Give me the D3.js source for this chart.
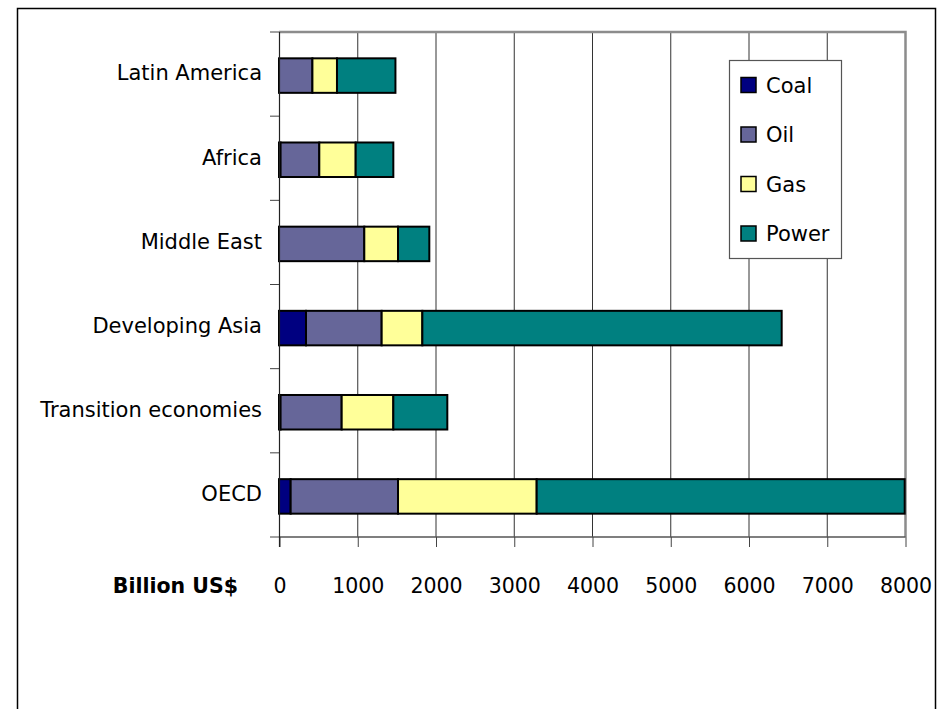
<!DOCTYPE html>
<html lang="en">
<head>
  <meta charset="UTF-8">
  <title>Investment by region</title>
  <script src="https://d3js.org/d3.v7.min.js"></script>
  <style>
    body { margin: 0; background: #fff; font-family: "DejaVu Sans", sans-serif; }
    svg { display: block; }
    .cat-label { font-size: 21px; text-anchor: end; }
    .tick-label { font-size: 20.5px; text-anchor: middle; }
    .unit-label { font-size: 20.5px; font-weight: bold; text-anchor: end; }
    .legend-label { font-size: 21px; }
  </style>
</head>
<body>
<svg width="949" height="709"></svg>
<script>
// regions, bottom to top as drawn
const regions = ["OECD", "Transition economies", "Developing Asia", "Middle East", "Africa", "Latin America"];
const fuels = ["Coal", "Oil", "Gas", "Power"];
const fuelColors = ["#000080", "#666699", "#ffff99", "#008080"];

// billion US$, same order as regions
const coal  = [149,  20,  345,    0,  20,   0];
const oil   = [1372, 781, 967,  1090, 495, 427];
const gas   = [1772, 660, 520,  431,  465, 314];
const power = [4703, 690, 4592, 400,  481, 747];

const xTicks = [0, 1000, 2000, 3000, 4000, 5000, 6000, 7000, 8000];

const rows = regions.map((r, i) => ({
  region: r, Coal: coal[i], Oil: oil[i], Gas: gas[i], Power: power[i]
}));

const svg = d3.select("svg");

// outer chart frame
svg.append("rect")
  .attr("x", 17.5).attr("y", 8.5)
  .attr("width", 918).attr("height", 720)
  .attr("fill", "#fff")
  .attr("stroke", "#000")
  .attr("stroke-width", 1.5);

const plot = { left: 279, right: 905, top: 32, bottom: 537 };

const x = d3.scaleLinear()
  .domain([0, 8000])
  .range([plot.left, plot.right]);

const y = d3.scaleBand()
  .domain(regions.slice().reverse())
  .range([plot.top, plot.bottom])
  .paddingInner(0.59)
  .paddingOuter(0.295);

const g = svg.append("g");

// vertical gridlines
g.append("g")
  .selectAll("line")
  .data(xTicks.slice(1, -1))
  .join("line")
  .attr("x1", d => x(d) + 0.5).attr("x2", d => x(d) + 0.5)
  .attr("y1", plot.top).attr("y2", plot.bottom)
  .attr("stroke", "#333")
  .attr("stroke-width", 1);

// plot area border on top and right (grey)
g.append("path")
  .attr("d", `M${plot.left},${plot.top} H${x(8000) + 0.5} V${plot.bottom}`)
  .attr("fill", "none")
  .attr("stroke", "#8c8c8c")
  .attr("stroke-width", 2.5);

// stacked bars
const stack = d3.stack().keys(fuels);
const series = stack(rows);

g.append("g")
  .attr("transform", "translate(0,1.5)")
  .selectAll("g")
  .data(series)
  .join("g")
  .attr("fill", (d, i) => fuelColors[i])
  .selectAll("rect")
  .data(d => d.filter(p => p[1] - p[0] > 0))
  .join("rect")
  .attr("x", d => x(d[0]))
  .attr("y", d => y(d.data.region))
  .attr("width", d => x(d[1]) - x(d[0]))
  .attr("height", y.bandwidth())
  .attr("stroke", "#000")
  .attr("stroke-width", 2);

// value axis (bottom)
const xAxis = d3.axisBottom(x)
  .tickValues(xTicks)
  .tickSize(10)
  .tickFormat("");
const xg = g.append("g")
  .attr("transform", `translate(0.5,${plot.bottom})`)
  .call(xAxis);
xg.select(".domain").attr("stroke", "#555").attr("stroke-width", 1.5).attr("d", `M${plot.left - 0.5},0H${plot.right}`);
xg.selectAll(".tick line").attr("stroke", "#444");

// category axis (left)
g.append("g")
  .selectAll("line")
  .data(d3.range(regions.length + 1))
  .join("line")
  .attr("x1", plot.left - 9).attr("x2", plot.left)
  .attr("y1", i => plot.top + i * (plot.bottom - plot.top) / regions.length)
  .attr("y2", i => plot.top + i * (plot.bottom - plot.top) / regions.length)
  .attr("stroke", "#444");
g.append("line")
  .attr("x1", plot.left + 0.5).attr("x2", plot.left + 0.5)
  .attr("y1", plot.top).attr("y2", plot.bottom + 10)
  .attr("stroke", "#222")
  .attr("stroke-width", 1.2);

// category labels
g.append("g")
  .selectAll("text")
  .data(regions)
  .join("text")
  .attr("class", "cat-label")
  .attr("x", 262)
  .attr("y", d => y(d) + y.bandwidth() / 2)
  .attr("dy", "0.3em")
  .text(d => d);

// tick labels
g.append("g")
  .selectAll("text")
  .data(xTicks)
  .join("text")
  .attr("class", "tick-label")
  .attr("x", d => x(d) + 1)
  .attr("y", 593)
  .text(d => d);

g.append("text")
  .attr("class", "unit-label")
  .attr("x", 238)
  .attr("y", 593)
  .text("Billion US$");

// legend
const legend = svg.append("g");
legend.append("rect")
  .attr("x", 729.5).attr("y", 60.5)
  .attr("width", 112).attr("height", 198)
  .attr("fill", "#fff")
  .attr("stroke", "#555")
  .attr("stroke-width", 1.2);

const item = legend.selectAll("g.item")
  .data(fuels)
  .join("g")
  .attr("class", "item")
  .attr("transform", (d, i) => `translate(741,${85 + i * 49.5})`);

item.append("rect")
  .attr("x", 0).attr("y", -7.5)
  .attr("width", 15).attr("height", 15)
  .attr("fill", (d, i) => fuelColors[i])
  .attr("stroke", "#000")
  .attr("stroke-width", 1.5);

item.append("text")
  .attr("class", "legend-label")
  .attr("x", 25)
  .attr("dy", "0.36em")
  .text(d => d);
</script>
</body>
</html>
